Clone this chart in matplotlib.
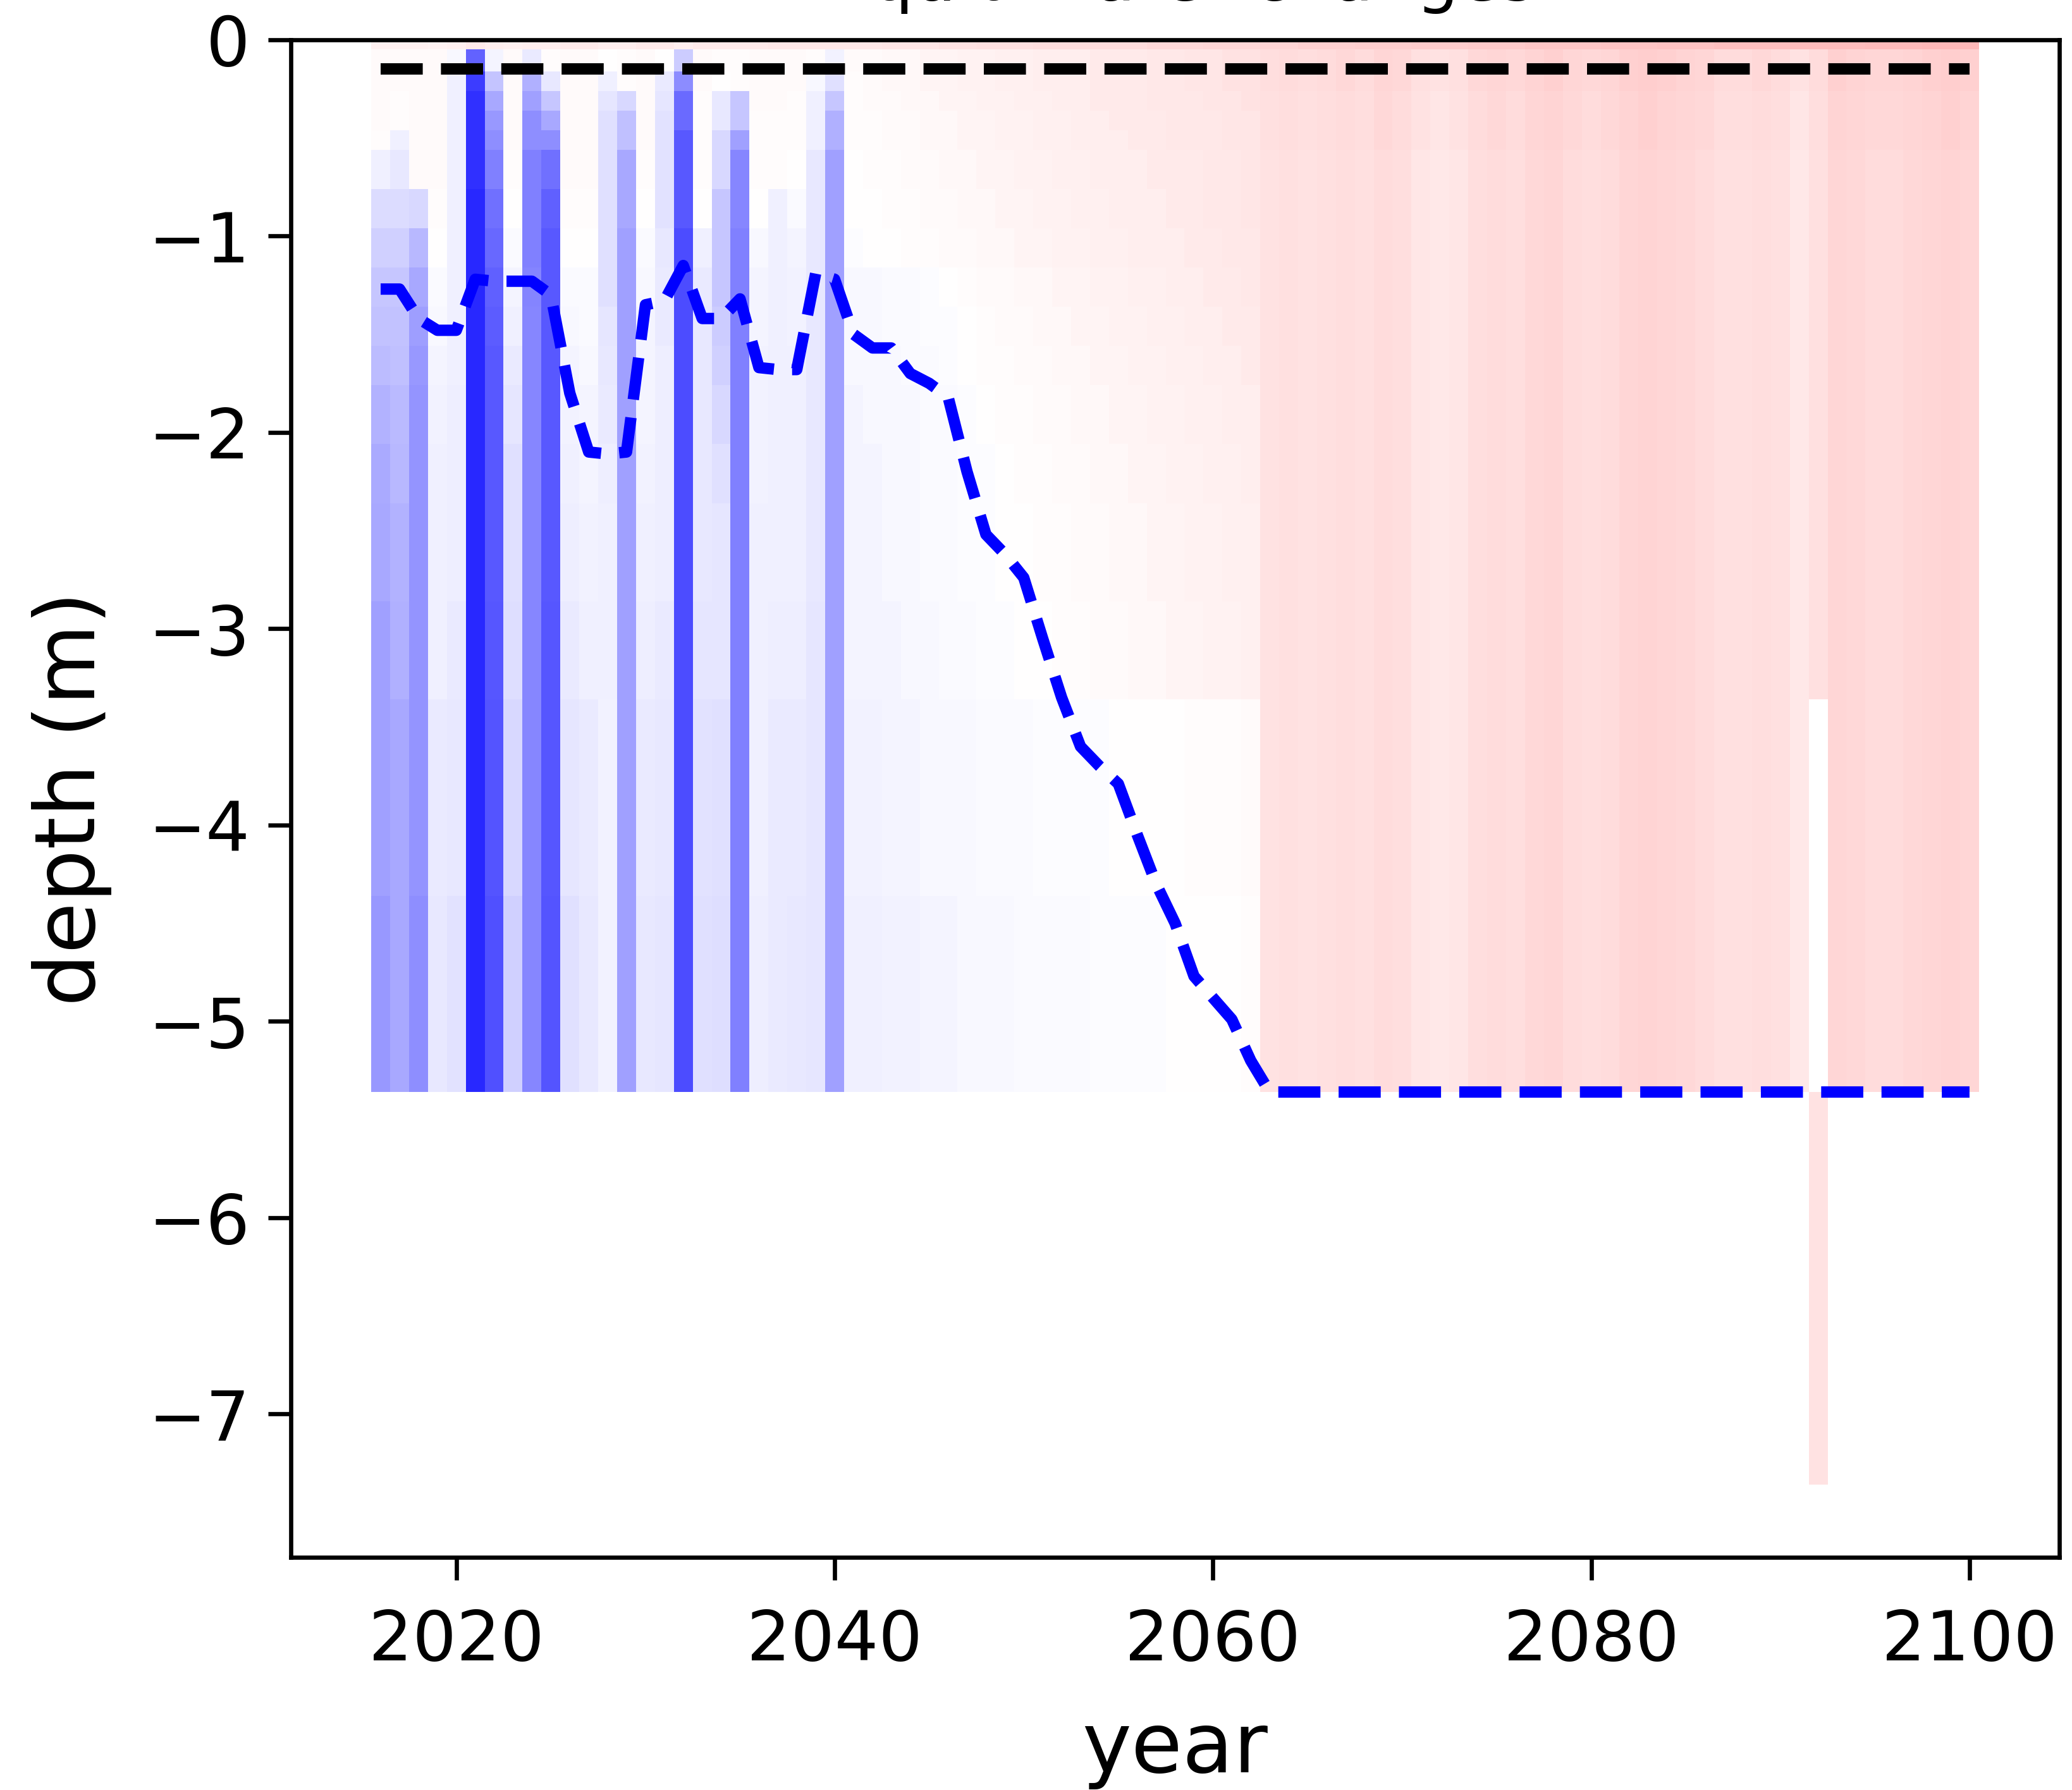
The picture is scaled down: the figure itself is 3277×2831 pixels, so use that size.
import numpy as np
import matplotlib
matplotlib.use('Agg')
import matplotlib.pyplot as plt

nan = np.nan

# years shown as columns, layer interfaces (m below surface)
years = np.arange(2016, 2101)
layer_edges = [0, 0.05, 0.16, 0.26, 0.36, 0.46, 0.56, 0.76, 0.96, 1.16, 1.36,
               1.56, 1.76, 2.06, 2.36, 2.86, 3.36, 4.36, 5.36, 7.36]

# thaw depth per year (m), blue dashed line
thaw_depth = [1.27, 1.27, 1.42, 1.48, 1.48, 1.22, 1.23, 1.23, 1.23, 1.30,
              1.80, 2.10, 2.11, 2.10, 1.35, 1.33, 1.15, 1.42, 1.42, 1.32,
              1.67, 1.68, 1.68, 1.19, 1.22, 1.50, 1.57, 1.57, 1.70, 1.75,
              1.82, 2.20, 2.52, 2.62, 2.74, 3.05, 3.35, 3.60, 3.70, 3.79,
              4.05, 4.30, 4.50, 4.77, 4.88, 4.99, 5.20, 5.36, 5.36, 5.36,
              5.36, 5.36, 5.36, 5.36, 5.36, 5.36, 5.36, 5.36, 5.36, 5.36,
              5.36, 5.36, 5.36, 5.36, 5.36, 5.36, 5.36, 5.36, 5.36, 5.36,
              5.36, 5.36, 5.36, 5.36, 5.36, 5.36, 5.36, 5.36, 5.36, 5.36,
              5.36, 5.36, 5.36, 5.36, 5.36]
ref_depth = 0.15

# change in % of colour range, one row per layer
# 2016-2040 / 2041-2062 / 2063-2100
late_top = [17, 17, 18, 18, 18, 19, 19, 19, 20, 20, 20, 21, 21, 21, 22, 22, 22, 22, 23,
            23, 23, 24, 24, 24, 25, 25, 25, 25, 26, 26, 26, 26, 27, 27, 27, 28, 28, 28]
late_p2 = [13, 14, 13, 14, 15, 14, 16, 15, 12, 11, 12, 15, 16, 15, 17, 18, 16, 15, 16,
           18, 19, 18, 17, 16, 14, 14, 15, 14, 11, 14, 18, 17, 16, 16, 17, 18, 19, 18]
late_p1 = [12, 13, 12, 13, 14, 13, 15, 14, 11, 10, 11, 14, 15, 14, 16, 17, 15, 14, 15,
           17, 18, 17, 16, 15, 13, 13, 14, 13, 10, 13, 17, 16, 15, 15, 16, 17, 18, 17]
late_p0 = [11, 12, 11, 12, 13, 12, 14, 13, 10, 9, 10, 13, 14, 13, 15, 16, 14, 13, 14,
           16, 17, 16, 15, 14, 12, 12, 13, 12, 9, 12, 16, 15, 14, 14, 15, 16, 17, 16]
late_deep = [11, 12, 11, 12, 13, 12, 14, 13, 10, 9, 10, 13, 14, 13, 15, 16, 14, 13, 14,
             16, 17, 16, 15, 14, 12, 12, 13, 12, 9, nan, 16, 15, 14, 14, 15, 16, 17, 16]

change = [
    [6, 6, 6, 5, 6, 8, 7, 6, 7, 7, 8, 8, 7, 7, 8, 8, 7, 8, 8, 8, 8, 9, 9, 9, 9]
    + [9, 9, 10, 10, 10, 11, 11, 12, 12, 12, 13, 13, 13, 14, 14, 14, 15, 15, 15, 16, 16, 16]
    + late_top,
    [2, 2, 2, 2, -3, -61, -4, 2, -8, 1, 2, 2, 0, 1, 2, 0, -20, 2, 1, 1, 2, 2, 2, 1, -5]
    + [2, 2, 3, 3, 4, 4, 5, 5, 6, 6, 7, 7, 7, 8, 8, 8, 9, 9, 10, 10, 11, 11]
    + late_p2,
    [2, 2, 2, 2, -6, -76, -23, 2, -31, -9, 2, 2, -6, 1, 2, -8, -45, 2, 0, 1, 2, 2, 2, -3, -12]
    + [1, 2, 3, 3, 4, 4, 5, 5, 6, 6, 7, 7, 7, 8, 8, 8, 9, 9, 10, 10, 11, 11]
    + late_p2,
    [2, 1, 2, 2, -6, -81, -34, 2, -37, -22, 2, 2, -10, -15, 2, -10, -58, 1, -9, -22, 2, 2, 1, -6, -22]
    + [1, 2, 2, 3, 3, 4, 4, 5, 5, 6, 6, 7, 7, 8, 8, 8, 9, 9, 9, 10, 10, 11]
    + late_p1,
    [2, 1, 2, 2, -6, -81, -40, 2, -44, -34, 2, 2, -12, -25, 2, -11, -58, 1, -9, -22, 1, 1, 1, -6, -31]
    + [1, 1, 2, 2, 3, 3, 4, 4, 5, 5, 6, 6, 7, 7, 8, 8, 8, 9, 9, 9, 10, 10]
    + late_p1,
    [1, -6, 2, 2, -6, -81, -44, 2, -44, -44, 2, 2, -12, -25, 2, -11, -65, 1, -15, -37, 1, 1, 1, -6, -31]
    + [1, 1, 2, 2, 3, 3, 4, 4, 5, 5, 6, 6, 7, 7, 7, 8, 8, 9, 9, 9, 10, 10]
    + late_p1,
    [-6, -9, 2, 2, -6, -81, -50, 1, -50, -56, 2, 2, -12, -34, 1, -11, -65, 1, -15, -47, 1, 1, 0, -9, -37]
    + [0, 1, 1, 2, 2, 3, 3, 4, 4, 5, 5, 6, 6, 7, 7, 7, 8, 8, 8, 9, 9, 10]
    + late_p0,
    [-14, -14, -15, 1, -6, -84, -56, 0, -50, -62, 1, 1, -12, -34, 0, -11, -65, 0, -22, -47, 0, -6, -2, -9, -37]
    + [0, 0, 1, 1, 2, 2, 3, 3, 4, 4, 5, 5, 6, 6, 7, 7, 7, 8, 8, 9, 9, 10]
    + late_p0,
    [-18, -18, -28, 0, -6, -84, -59, -2, -50, -65, 0, 0, -12, -37, -2, -9, -70, -6, -22, -50, -3, -6, -4, -9, -37]
    + [-1, 0, 0, 1, 1, 2, 2, 3, 3, 4, 4, 5, 5, 6, 6, 7, 7, 7, 8, 8, 9, 9]
    + late_p0,
    [-22, -22, -34, -2, -6, -84, -62, -4, -48, -65, -2, -2, -12, -37, -3, -8, -70, -8, -22, -50, -4, -6, -5, -9, -37]
    + [-3, -3, -2, -2, -1, 0, 1, 2, 2, 3, 3, 4, 4, 5, 5, 6, 6, 7, 7, 8, 8, 9]
    + late_p0,
    [-24, -24, -38, -3, -6, -84, -64, -6, -47, -65, -3, -2, -10, -37, -4, -8, -70, -9, -20, -50, -4, -6, -5, -9, -37]
    + [-3, -3, -2, -2, -1, -1, 0, 1, 2, 2, 3, 3, 4, 4, 5, 5, 6, 6, 7, 7, 8, 8]
    + late_p0,
    [-26, -25, -40, -4, -6, -84, -65, -8, -47, -65, -4, -3, -9, -37, -4, -7, -70, -9, -18, -50, -5, -6, -6, -9, -37]
    + [-3, -3, -3, -2, -2, -1, 0, 1, 1, 2, 2, 3, 3, 4, 4, 5, 5, 6, 6, 7, 7, 8]
    + late_p0,
    [-30, -27, -42, -5, -7, -84, -65, -10, -47, -65, -5, -4, -8, -37, -4, -7, -70, -9, -15, -50, -5, -6, -6, -9, -37]
    + [-4, -3, -3, -3, -2, -2, -1, 0, 1, 1, 2, 2, 3, 3, 4, 4, 5, 5, 6, 6, 7, 7]
    + late_p0,
    [-33, -28, -42, -6, -7, -84, -65, -12, -47, -65, -6, -4, -7, -37, -5, -7, -70, -9, -12, -50, -5, -6, -6, -9, -37]
    + [-4, -4, -3, -3, -2, -2, -1, -1, 0, 1, 1, 2, 2, 3, 3, 4, 4, 5, 5, 6, 6, 7]
    + late_p0,
    [-34, -30, -42, -6, -7, -84, -65, -12, -47, -65, -7, -5, -6, -37, -6, -7, -70, -9, -10, -50, -6, -6, -6, -9, -37]
    + [-4, -4, -3, -3, -2, -2, -1, -1, 0, 0, 1, 1, 2, 2, 3, 3, 4, 4, 5, 5, 6, 6]
    + late_p0,
    [-37, -31, -42, -6, -8, -84, -66, -13, -47, -66, -8, -6, -6, -37, -7, -8, -70, -10, -10, -50, -6, -7, -7, -10, -37]
    + [-4, -4, -4, -3, -3, -2, -2, -1, -1, 0, 0, 1, 1, 2, 2, 3, 3, 4, 4, 5, 5, 6]
    + late_p0,
    [-37, -34, -42, -8, -9, -84, -67, -15, -47, -66, -10, -8, -5, -37, -8, -9, -70, -11, -12, -50, -6, -8, -8, -10, -37]
    + [-5, -5, -4, -4, -3, -3, -3, -2, -2, -2, -1, -1, -1, -1, 0, 0, 0, 0, 1, 1, 1, 2]
    + late_deep,
    [-40, -34, -44, -9, -11, -84, -68, -18, -47, -67, -12, -9, -5, -37, -9, -10, -70, -12, -13, -50, -7, -8, -9, -10, -37]
    + [-6, -6, -5, -5, -4, -4, -3, -3, -3, -2, -2, -2, -2, -1, -1, -1, -1, 0, 0, 0, 0, 1]
    + late_deep,
    [nan] * 76 + [11] + [nan] * 8,
]

fig = plt.figure(figsize=(3278 / 600, 2831 / 600), dpi=600)
ax = fig.add_axes([0.1403, 0.13, 0.8533, 0.8478])

x_edges = np.append(years - 0.5, years[-1] + 0.5)
y_edges = -np.array(layer_edges)
ax.pcolormesh(x_edges, y_edges, np.ma.masked_invalid(np.array(change, dtype=float)),
              cmap='bwr', vmin=-100, vmax=100)

ax.plot(years, [-ref_depth] * len(years), 'k--', lw=2.16)
ax.plot(years, -np.array(thaw_depth), 'b--', lw=2.16)

ax.set_xlim(2011.25, 2104.75)
ax.set_ylim(-7.73, 0)
ax.set_xticks([2020, 2040, 2060, 2080, 2100])
ax.set_yticks(range(-7, 1))
ax.tick_params(labelsize=13.1, length=4.3)
ax.tick_params(axis='x', pad=5.3)
ax.set_xlabel('year', fontsize=15.8, labelpad=6.5)
ax.set_ylabel('depth (m)', fontsize=15.8, labelpad=6.8)
# title sits mostly above the figure edge, as in the source image
ax.set_title('Liquid water changes', fontsize=12.8, pad=7.5)

fig.savefig('out.png', dpi=600)
